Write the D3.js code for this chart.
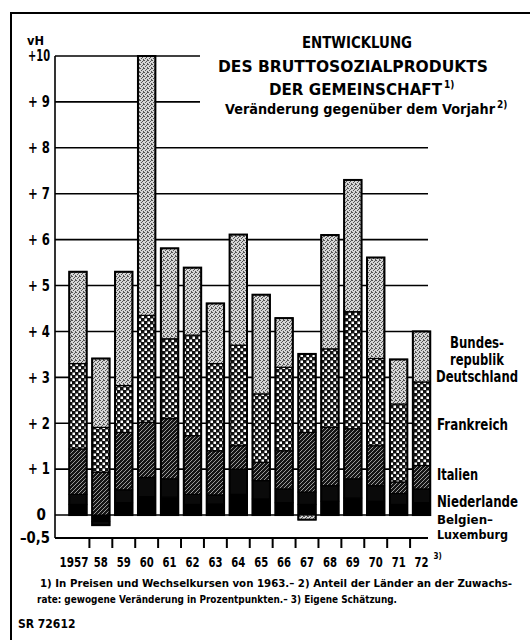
<!DOCTYPE html>
<html>
<head>
<meta charset="utf-8">
<script src="https://cdn.jsdelivr.net/npm/d3@7"></script>
<style>
  body { margin: 0; background: #fff; }
  text { font-family: 'Liberation Sans Narrow', 'DejaVu Sans Condensed', 'Roboto Condensed', 'Liberation Sans', sans-serif; font-weight: bold; fill: #000; }
</style>
</head>
<body>
<div id="chart"></div>
<script>
// years on the x axis
var years = ["1957", "58", "59", "60", "61", "62", "63", "64", "65", "66", "67", "68", "69", "70", "71", "72"];

// contribution of each country to community growth, percentage points
var bundesrepublik = [2.00, 1.50, 2.48, 5.65, 1.97, 1.47, 1.31, 2.41, 2.16, 1.07, -0.10, 2.48, 2.87, 2.20, 0.97, 1.10];
var frankreich     = [1.86, 0.98, 1.02, 2.33, 1.74, 2.19, 1.90, 2.19, 1.49, 1.82, 1.71, 1.71, 2.55, 1.90, 1.70, 1.82];
var italien        = [0.99, 0.93, 1.25, 1.20, 1.31, 1.28, 0.96, 0.51, 0.40, 0.83, 1.30, 1.27, 1.09, 0.87, 0.25, 0.51];
var niederlande    = [0.22, -0.08, 0.28, 0.42, 0.40, 0.22, 0.20, 0.55, 0.40, 0.30, 0.27, 0.34, 0.42, 0.34, 0.24, 0.30];
var belgienLux     = [0.23, -0.14, 0.27, 0.40, 0.39, 0.23, 0.24, 0.45, 0.35, 0.27, 0.23, 0.30, 0.37, 0.30, 0.23, 0.27];

var yTicks = [-0.5, 0, 1, 2, 3, 4, 5, 6, 7, 8, 9, 10];
var yTickLabels = ["\u20130,5", "0", "+ 1", "+ 2", "+ 3", "+ 4", "+ 5", "+ 6", "+ 7", "+ 8", "+ 9", "+10"];

var titleLines = ["ENTWICKLUNG", "DES BRUTTOSOZIALPRODUKTS", "DER GEMEINSCHAFT"];
var subtitle = "Ver\u00e4nderung gegen\u00fcber dem Vorjahr";

var legendLabels = [["Bundes-", "republik", "Deutschland"], ["Frankreich"], ["Italien"], ["Niederlande"], ["Belgien\u2013", "Luxemburg"]];

var footnotes = [
  "1) In Preisen und Wechselkursen von 1963.\u2013 2) Anteil der L\u00e4nder an der Zuwachs-",
  "rate: gewogene Ver\u00e4nderung in Prozentpunkten.\u2013 3) Eigene Sch\u00e4tzung."
];
var sourceCode = "SR 72612";

var keys = ["belgienLux", "niederlande", "italien", "frankreich", "bundesrepublik"];
var rows = years.map(function(y, i) {
  return {
    year: y,
    belgienLux: belgienLux[i],
    niederlande: niederlande[i],
    italien: italien[i],
    frankreich: frankreich[i],
    bundesrepublik: bundesrepublik[i]
  };
});

var W = 530, H = 640;
var svg = d3.select("#chart").append("svg")
  .attr("width", W)
  .attr("height", H);

// fill patterns imitating the print screens
var defs = svg.append("defs");

var stip = defs.append("pattern").attr("id", "stipple")
  .attr("width", 4).attr("height", 4).attr("patternUnits", "userSpaceOnUse");
stip.append("rect").attr("width", 4).attr("height", 4).attr("fill", "#d6d6d6");
[[0, 0], [2, 1], [1, 2], [3, 3], [3, 0]].forEach(function(p) {
  stip.append("rect").attr("x", p[0]).attr("y", p[1]).attr("width", 1).attr("height", 1).attr("fill", "#555");
});

var chk = defs.append("pattern").attr("id", "checker")
  .attr("width", 6).attr("height", 6).attr("patternUnits", "userSpaceOnUse");
chk.append("rect").attr("width", 6).attr("height", 6).attr("fill", "#111");
chk.append("rect").attr("x", 0.5).attr("y", 0.5).attr("width", 2.5).attr("height", 2.5).attr("fill", "#fff");
chk.append("rect").attr("x", 3.5).attr("y", 3.5).attr("width", 2.5).attr("height", 2.5).attr("fill", "#fff");

var hat = defs.append("pattern").attr("id", "hatch")
  .attr("width", 4).attr("height", 4).attr("patternUnits", "userSpaceOnUse");
hat.append("rect").attr("width", 4).attr("height", 4).attr("fill", "#151515");
hat.append("path").attr("d", "M-1,1 l2,-2 M0,4 l4,-4 M3,5 l2,-2")
  .attr("stroke", "#9a9a9a").attr("stroke-width", 1);

var fills = {
  belgienLux: "#000",
  niederlande: "#0a0a0a",
  italien: "url(#hatch)",
  frankreich: "url(#checker)",
  bundesrepublik: "url(#stipple)"
};

// frame
svg.append("line").attr("x1", 10).attr("x2", W).attr("y1", 13).attr("y2", 13)
  .attr("stroke", "#000").attr("stroke-width", 2);
svg.append("line").attr("x1", 11).attr("x2", 11).attr("y1", 12).attr("y2", H)
  .attr("stroke", "#000").attr("stroke-width", 2);

var x = d3.scaleBand()
  .domain(years)
  .range([66.5, 433])
  .paddingInner(0.24)
  .paddingOuter(0.12);

var y = d3.scaleLinear()
  .domain([-0.5, 10])
  .range([538, 56]);

var axisLeftX = 55, gridRight = 428, gridShortRight = 200;

// grid lines
svg.append("g").selectAll("line")
  .data(yTicks.filter(function(d) { return d >= 0; }))
  .enter().append("line")
  .attr("x1", axisLeftX)
  .attr("x2", function(d) { return d >= 9 ? gridShortRight : gridRight; })
  .attr("y1", function(d) { return y(d); })
  .attr("y2", function(d) { return y(d); })
  .attr("stroke", "#000")
  .attr("stroke-width", 1.6);

// stacked bars
var series = d3.stack().keys(keys).offset(d3.stackOffsetDiverging)(rows);

svg.append("g").selectAll("g")
  .data(series)
  .enter().append("g")
  .attr("fill", function(d) { return fills[d.key]; })
  .selectAll("rect")
  .data(function(d) { return d; })
  .enter().append("rect")
  .attr("x", function(d) { return x(d.data.year); })
  .attr("y", function(d) { return y(Math.max(d[0], d[1])); })
  .attr("width", x.bandwidth())
  .attr("height", function(d) { return Math.abs(y(d[0]) - y(d[1])); })
  .attr("stroke", "#000")
  .attr("stroke-width", 1.2);

// outline round each whole bar
svg.append("g").selectAll("rect")
  .data(rows)
  .enter().append("rect")
  .attr("x", function(d) { return x(d.year); })
  .attr("y", function(d) {
    var pos = d3.sum(keys, function(k) { return Math.max(0, d[k]); });
    return y(pos);
  })
  .attr("width", x.bandwidth())
  .attr("height", function(d) {
    var pos = d3.sum(keys, function(k) { return Math.max(0, d[k]); });
    var neg = d3.sum(keys, function(k) { return Math.min(0, d[k]); });
    return y(neg) - y(pos);
  })
  .attr("fill", "none")
  .attr("stroke", "#000")
  .attr("stroke-width", 2);

// left axis line and bottom base line
svg.append("line").attr("x1", axisLeftX).attr("x2", axisLeftX)
  .attr("y1", y(10)).attr("y2", y(-0.5))
  .attr("stroke", "#000").attr("stroke-width", 1.6);
svg.append("line").attr("x1", axisLeftX).attr("x2", gridRight)
  .attr("y1", y(-0.5)).attr("y2", y(-0.5))
  .attr("stroke", "#000").attr("stroke-width", 2.2);

// ticks between the years
var step = x.step();
svg.append("g").selectAll("line")
  .data(years.slice(1))
  .enter().append("line")
  .attr("x1", function(d) { return x(d) - (step - x.bandwidth()) / 2; })
  .attr("x2", function(d) { return x(d) - (step - x.bandwidth()) / 2; })
  .attr("y1", y(-0.5))
  .attr("y2", y(-0.5) + 10)
  .attr("stroke", "#000")
  .attr("stroke-width", 2);

// y axis labels
var yAxis = svg.append("g")
  .attr("transform", "translate(" + axisLeftX + ",0)")
  .call(d3.axisLeft(y).tickValues(yTicks)
    .tickFormat(function(d, i) { return yTickLabels[i]; })
    .tickSize(0).tickPadding(5));
yAxis.select(".domain").remove();
yAxis.attr("font-family", null).attr("font-size", null);
yAxis.selectAll("text")
  .style("font-size", "15px")
  .attr("dx", function(d) { return d === 0 ? -4 : 0; })
  .each(function(d) {
    if (d === 0) return;
    d3.select(this)
      .attr("textLength", d === -0.5 ? 30 : 22)
      .attr("lengthAdjust", "spacingAndGlyphs");
  });

svg.append("text").attr("x", 27).attr("y", 45)
  .attr("textLength", 17).attr("lengthAdjust", "spacingAndGlyphs")
  .style("font-size", "13px").text("vH");

// x axis labels
var xAxis = svg.append("g")
  .attr("transform", "translate(0," + y(-0.5) + ")")
  .call(d3.axisBottom(x).tickSize(0).tickPadding(19));
xAxis.select(".domain").remove();
xAxis.attr("font-family", null).attr("font-size", null);
xAxis.selectAll("text")
  .style("font-size", "14px")
  .attr("dx", function(d, i) { return i === 0 ? -4 : 0; })
  .attr("textLength", function(d) { return d.length > 2 ? 29 : 14; })
  .attr("lengthAdjust", "spacingAndGlyphs");

svg.append("text")
  .attr("x", x(years[years.length - 1]) + x.bandwidth() / 2 + 12)
  .attr("y", y(-0.5) + 21)
  .style("font-size", "8px")
  .text("3)");

// title
var titleX = [302, 218, 269];
var titleLen = [110, 270, 173];
var titleY = [48, 72, 95];
titleLines.forEach(function(t, i) {
  svg.append("text")
    .attr("x", titleX[i]).attr("y", titleY[i])
    .attr("textLength", titleLen[i]).attr("lengthAdjust", "spacingAndGlyphs")
    .style("font-size", "16px")
    .text(t);
});
svg.append("text").attr("x", 444).attr("y", 88).style("font-size", "10px").text("1)");

svg.append("text")
  .attr("x", 225).attr("y", 114)
  .attr("textLength", 270).attr("lengthAdjust", "spacingAndGlyphs")
  .style("font-size", "14px")
  .text(subtitle);
svg.append("text").attr("x", 497).attr("y", 108).style("font-size", "10px").text("2)");

// legend at the right
var legendTop = [348, 430, 480, 507, 524];
var legendLen = [[54, 54, 82], [71], [41], [81], [56, 71]];
legendLabels.forEach(function(lines, i) {
  var last = i === legendLabels.length - 1;
  lines.forEach(function(l, j) {
    var t = svg.append("text")
      .style("font-size", last ? "13px" : "15px")
      .attr("y", legendTop[i] + j * (i === 0 ? 17 : 15))
      .attr("textLength", legendLen[i][j])
      .attr("lengthAdjust", "spacingAndGlyphs")
      .text(l);
    if (i === 0) {
      t.attr("x", 477 - legendLen[i][j] / 2);
    } else {
      t.attr("x", 437);
    }
  });
});

// footnotes
var footY = [587, 603];
var footLen = [472, 360];
var footX = [40, 37];
footnotes.forEach(function(f, i) {
  svg.append("text")
    .attr("x", footX[i]).attr("y", footY[i])
    .attr("textLength", footLen[i]).attr("lengthAdjust", "spacingAndGlyphs")
    .style("font-size", "11px")
    .text(f);
});

svg.append("text").attr("x", 18).attr("y", 628)
  .style("font-size", "12px").text(sourceCode);
</script>
</body>
</html>
